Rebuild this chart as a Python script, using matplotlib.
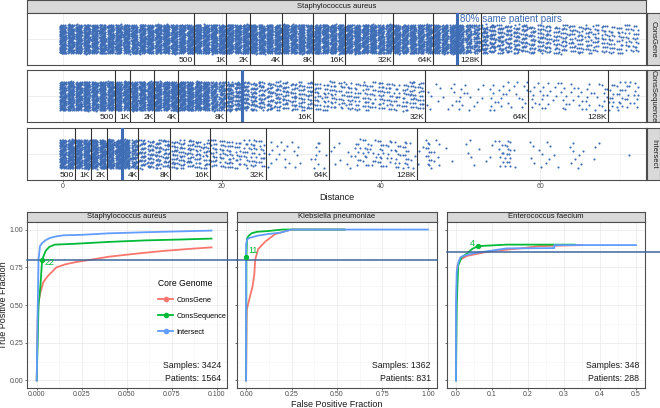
import matplotlib
matplotlib.use("Agg")
import matplotlib.pyplot as plt
from matplotlib.lines import Line2D
import numpy as np

plt.rcParams['font.family'] = ['Liberation Sans', 'DejaVu Sans']

W, H = 660, 408

# ---- top: pairwise SNP distance strips (points per integer distance) ----
distances = list(range(0, 73))
counts_gene = ([130] * 30 + [125] * 10 + [110] * 10 + [90, 75, 65] +
               [55, 50, 45, 42, 40, 38, 35] +
               [32, 30, 28, 28, 26, 25, 24, 22, 22, 20, 20, 18, 18])
counts_seq = ([130] * 18 + [110, 90, 75, 65, 60] +
              [50, 45, 40, 38, 35, 32, 30, 28, 26] +
              [22, 20, 22, 18, 20, 18, 20, 16, 22, 18, 15, 20, 24, 20] +
              [4, 3, 2, 5, 6, 4, 3, 2, 8, 6, 5, 4, 6] +
              [6, 7, 5, 4, 8, 5, 6, 7, 5, 8, 10, 12, 10, 8])
counts_int = ([130] * 8 + [110, 70] + [40, 38, 36, 34] + [30, 28, 30, 26, 24] +
              [22, 20, 22, 18, 16, 18, 15] +
              [5, 4, 5, 4, 2, 1, 8, 2] +
              [3, 2, 4, 10, 12, 8, 14, 10, 12, 14, 4] +
              [3, 14, 6, 1, 1, 0, 4, 2, 1, 3, 8, 14, 2, 0, 4, 3, 4, 2, 0, 5, 4, 0, 3, 0, 0, 0, 1])

cut_labels = ["500", "1K", "2K", "4K", "8K", "16K", "32K", "64K", "128K"]
cuts_gene = [16.5, 20.5, 23.5, 27.5, 31.5, 35.5, 41.5, 46.5, 52.5]
cuts_seq = [6.5, 8.5, 11.5, 14.5, 20.5, 31.5, 45.5, 58.5, 68.5]
cuts_int = [1.5, 3.5, 5.5, 9.5, 13.5, 18.5, 25.5, 33.5, 44.5]
same_patient_80 = {"ConsGene": 49.5, "ConsSequence": 22.5, "Intersect": 7.5}

# ---- bottom: ROC curves ----
species = ["Staphylococcus aureus", "Klebsiella pneumoniae", "Enterococcus faecium"]
samples = [3424, 1362, 348]
patients = [1564, 831, 288]

sa_gene_fpr = [0, 0.0005, 0.001, 0.002, 0.0036, 0.006, 0.011, 0.016, 0.022, 0.028, 0.04, 0.055, 0.07, 0.085, 0.097]
sa_gene_tpr = [0, 0.40, 0.52, 0.58, 0.65, 0.69, 0.75, 0.77, 0.785, 0.796, 0.82, 0.84, 0.858, 0.872, 0.882]
sa_seq_fpr = [0, 0.001, 0.002, 0.003, 0.005, 0.007, 0.01, 0.02, 0.04, 0.06, 0.08, 0.097]
sa_seq_tpr = [0, 0.50, 0.62, 0.80, 0.86, 0.885, 0.90, 0.905, 0.918, 0.928, 0.934, 0.94]
sa_int_fpr = [0, 0.0005, 0.001, 0.0018, 0.003, 0.005, 0.0075, 0.011, 0.015, 0.025, 0.04, 0.06, 0.08, 0.097]
sa_int_tpr = [0, 0.45, 0.80, 0.89, 0.91, 0.93, 0.945, 0.955, 0.962, 0.965, 0.975, 0.982, 0.988, 0.993]

kp_gene_fpr = [0, 0.003, 0.004, 0.02, 0.035, 0.045, 0.05, 0.066, 0.105, 0.16, 0.25, 0.54]
kp_gene_tpr = [0, 0.40, 0.47, 0.55, 0.62, 0.70, 0.80, 0.87, 0.92, 0.97, 1.0, 1.0]
kp_seq_fpr = [0, 0.002, 0.005, 0.015, 0.03, 0.06, 0.12, 0.2, 0.54]
kp_seq_tpr = [0, 0.82, 0.94, 0.96, 0.975, 0.985, 0.99, 1.0, 1.0]
kp_int_fpr = [0, 0.0, 0.005, 0.02, 0.066, 0.12, 0.19, 0.25, 1.0]
kp_int_tpr = [0, 0.90, 0.934, 0.945, 0.96, 0.97, 0.98, 1.0, 1.0]

ef_gene_fpr = [0, 0.001, 0.004, 0.011, 0.03, 0.094, 0.186, 0.23, 0.35]
ef_gene_tpr = [0, 0.55, 0.76, 0.80, 0.825, 0.856, 0.877, 0.89, 0.897]
ef_seq_fpr = [0, 0.002, 0.006, 0.015, 0.03, 0.044, 0.06, 0.14, 0.33]
ef_seq_tpr = [0, 0.50, 0.76, 0.815, 0.84, 0.87, 0.89, 0.90, 0.90]
ef_int_fpr = [0, 0.0, 0.002, 0.0064, 0.012, 0.02, 0.047, 0.14, 0.273, 0.273, 0.5]
ef_int_tpr = [0, 0.50, 0.72, 0.78, 0.815, 0.826, 0.842, 0.875, 0.877, 0.897, 0.897]

cutoff_tpr = [0.80, 0.80, 0.85]
cutoff_snps = ["22", "11", "4"]
cutoff_fpr = [0.003, 0.0, 0.06]
cutoff_point_tpr = [0.80, 0.82, 0.89]

RED, GREEN, BLUE = "#F8766D", "#00BA38", "#619CFF"
DOT = "#3E6DB5"
LINE = "#3D679E"
GRID = "#EBEBEB"
BORDER = "#4D4D4D"
STRIP = "#D9D9D9"


def px_axes(fig, x0, y0, x1, y1):
    return fig.add_axes([x0 / W, 1 - y1 / H, (x1 - x0) / W, (y1 - y0) / H])


def strip(fig, x0, y0, x1, y1, text, rot=0):
    ax = px_axes(fig, x0, y0, x1, y1)
    ax.set_facecolor(STRIP)
    ax.set_xticks([])
    ax.set_yticks([])
    for s in ax.spines.values():
        s.set_color(BORDER)
        s.set_linewidth(0.8)
    ax.text(0.5, 0.5, text, transform=ax.transAxes, ha="center", va="center",
            fontsize=5.5, color="#1A1A1A", rotation=rot)


def style_panel(ax):
    ax.set_facecolor("white")
    for s in ax.spines.values():
        s.set_color(BORDER)
        s.set_linewidth(0.8)
    ax.tick_params(length=1.5, width=0.5, color="#333333", labelsize=5,
                   labelcolor="#4D4D4D", pad=1)


fig = plt.figure(figsize=(W / 100, H / 100), dpi=100)

# jitter: low-discrepancy sequence so every column gets an even spread
g = 1.32471795724474602596
a1, a2 = 1 / g, 1 / g ** 2

strip(fig, 27, 0, 646, 13, "Staphylococcus aureus")
top_rows = [("ConsGene", counts_gene, cuts_gene, 13, 65),
            ("ConsSequence", counts_seq, cuts_seq, 70, 122),
            ("Intersect", counts_int, cuts_int, 128, 180)]
k = 0
for name, counts, cuts, y0, y1 in top_rows:
    ax = px_axes(fig, 27, y0, 646, y1)
    style_panel(ax)
    ax.set_xlim(-4.5, 73.3)
    ax.set_ylim(-1, 1)
    ax.set_xticks([0, 20, 40, 60])
    ax.set_xticks([10, 30, 50, 70], minor=True)
    ax.tick_params(which="minor", length=0)
    ax.set_yticks([0])
    ax.grid(True, which="major", color=GRID, lw=0.6)
    ax.grid(True, which="minor", axis="x", color="#F4F4F4", lw=0.4)
    ax.set_axisbelow(True)
    xs, ys = [], []
    for d, n in zip(distances, counts):
        for _ in range(n):
            k += 1
            xs.append(d + ((0.5 + a1 * k) % 1 - 0.5) * 0.8)
            ys.append(((0.5 + a2 * k) % 1 - 0.5) * 1.12)
    ax.scatter(xs, ys, s=2.3, color=DOT, linewidths=0, zorder=2)
    for c, lab in zip(cuts, cut_labels):
        ax.axvline(c, color="#333333", lw=0.8, zorder=3)
        ax.text(c - 0.1, -0.97, lab, ha="right", va="bottom", fontsize=6,
                color="#1A1A1A", zorder=4)
    ax.axvline(same_patient_80[name], color=DOT, lw=2.2, zorder=3)
    if name == "ConsGene":
        ax.text(same_patient_80[name] + 0.4, 0.97, "80% same patient pairs",
                ha="left", va="top", fontsize=7, color=DOT, zorder=4)
    ax.tick_params(axis="y", left=False, labelleft=False)
    if name != "Intersect":
        ax.tick_params(axis="x", bottom=False, labelbottom=False)
    else:
        ax.set_xlabel("Distance", fontsize=6.5, labelpad=2, color="#1A1A1A")
    strip(fig, 647, y0, 660, y1, name, rot=-90)

# ---- bottom ROC panels ----
roc = [
    [(sa_gene_fpr, sa_gene_tpr), (sa_seq_fpr, sa_seq_tpr), (sa_int_fpr, sa_int_tpr)],
    [(kp_gene_fpr, kp_gene_tpr), (kp_seq_fpr, kp_seq_tpr), (kp_int_fpr, kp_int_tpr)],
    [(ef_gene_fpr, ef_gene_tpr), (ef_seq_fpr, ef_seq_tpr), (ef_int_fpr, ef_int_tpr)],
]
panel_x = [(27, 227), (237, 437), (447, 645)]
xlims = [(-0.0054, 0.1056), (-0.05, 1.05), (-0.025, 0.525)]
xticks = [np.arange(0, 0.101, 0.025), np.arange(0, 1.01, 0.25), np.arange(0, 0.51, 0.1)]
xfmt = ["{:.3f}", "{:.2f}", "{:.1f}"]
line_ext = [(0.0, 1.05), (0.0, 1.0), (0.0, 1.075)]
snp_text_pos = [(0.0045, 0.78, "left"), (0.012, 0.86, "left"), (0.044, 0.905, "center")]

axes = []
for i, sp in enumerate(species):
    x0, x1 = panel_x[i]
    strip(fig, x0, 212, x1, 222, sp)
    ax = px_axes(fig, x0, 222, x1, 388)
    axes.append(ax)
    style_panel(ax)
    ax.set_xlim(*xlims[i])
    ax.set_ylim(-0.05, 1.05)
    ax.set_xticks(xticks[i])
    ax.set_xticklabels([xfmt[i].format(v) for v in xticks[i]])
    ax.set_xticks((xticks[i][:-1] + xticks[i][1:]) / 2, minor=True)
    ax.set_yticks([0, 0.25, 0.5, 0.75, 1.0])
    ax.set_yticks([0.125, 0.375, 0.625, 0.875], minor=True)
    ax.tick_params(which="minor", length=0)
    ax.grid(True, which="major", color=GRID, lw=0.6)
    ax.grid(True, which="minor", color="#F4F4F4", lw=0.4)
    ax.set_axisbelow(True)
    if i == 0:
        ax.set_yticklabels(["0.00", "0.25", "0.50", "0.75", "1.00"])
        ax.set_ylabel("True Positive Fraction", fontsize=6.5, labelpad=1, color="#1A1A1A")
    else:
        ax.tick_params(axis="y", labelleft=False)
    for (fpr, tpr), col in zip(roc[i], [RED, GREEN, BLUE]):
        ax.plot(fpr, tpr, color=col, lw=1.3, zorder=3)
    ax.plot(line_ext[i], [cutoff_tpr[i]] * 2, transform=ax.get_yaxis_transform(),
            color=LINE, lw=1.1, clip_on=False, zorder=4)
    ax.scatter([cutoff_fpr[i]], [cutoff_point_tpr[i]], s=8, color=GREEN, zorder=5)
    tx, ty, ha = snp_text_pos[i]
    ax.text(tx, ty, cutoff_snps[i], color=GREEN, fontsize=6.5, ha=ha, va="center", zorder=5)
    ax.text(0.97, 0.135, f"Samples: {samples[i]}", transform=ax.transAxes,
            ha="right", va="center", fontsize=6.3, color="#1A1A1A")
    ax.text(0.97, 0.057, f"Patients: {patients[i]}", transform=ax.transAxes,
            ha="right", va="center", fontsize=6.3, color="#1A1A1A")

axes[1].set_xlabel("False Positive Fraction", fontsize=6.5, labelpad=1, color="#1A1A1A")

handles = [Line2D([], [], color=c, lw=1.3, marker="o", markersize=3)
           for c in [RED, GREEN, BLUE]]
leg = axes[0].legend(handles, ["ConsGene", "ConsSequence", "Intersect"],
                     title="Core Genome", loc="upper left",
                     bbox_to_anchor=(0.63, 0.69), frameon=False, fontsize=5.3,
                     title_fontsize=6.2, handlelength=2.0, labelspacing=1.2,
                     borderpad=0.2, handletextpad=0.5)
leg._legend_box.align = "left"

fig.savefig("out.png", dpi=100)
